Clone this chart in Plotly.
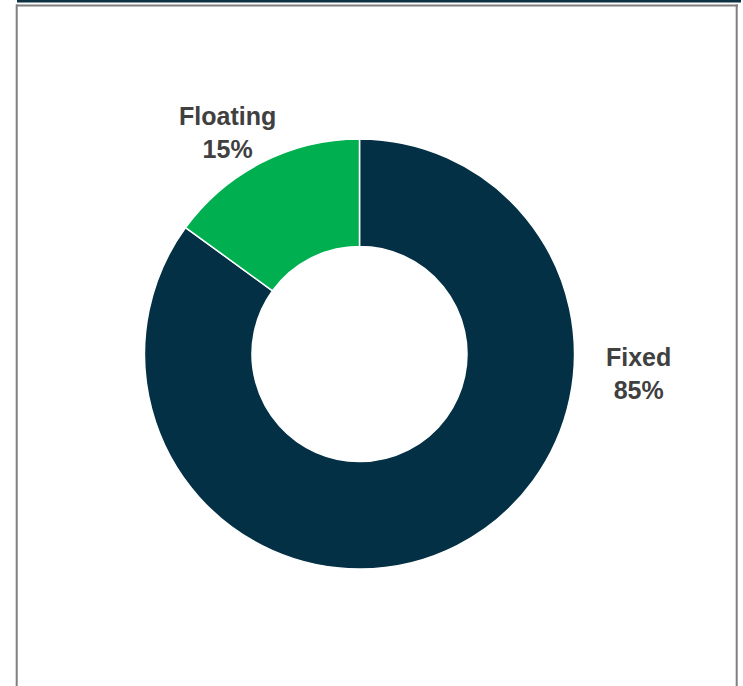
import plotly.graph_objects as go

labels = ["Fixed", "Floating"]
values = [85, 15]
colors = ["#033045", "#00B050"]

W, H = 743, 686

def px(x):
    return x / W

def py(y):
    return 1 - y / H

cx, cy, r = 359.5, 354, 215

fig = go.Figure(go.Pie(
    labels=labels,
    values=values,
    hole=0.5,
    sort=False,
    direction="clockwise",
    rotation=0,
    marker=dict(colors=colors, line=dict(color="white", width=1.5)),
    textinfo="none",
    hoverinfo="label+percent",
    showlegend=False,
    domain=dict(x=[px(cx - r), px(cx + r)], y=[py(cy + r), py(cy - r)]),
))

label_pos = {"Fixed": (638, 373), "Floating": (227, 132)}
total = sum(values)
for lab, v in zip(labels, values):
    x, y = label_pos[lab]
    fig.add_annotation(
        x=px(x), y=py(y), xref="paper", yref="paper",
        text=f"<b>{lab}<br>{round(100 * v / total)}%</b>",
        showarrow=False, align="center",
        font=dict(family="Liberation Sans, Arial", size=25, color="#404040"),
        xanchor="center", yanchor="middle",
    )

shapes = [
    dict(type="rect", x0=px(17), x1=px(741), y0=py(0), y1=py(2.4),
         fillcolor="#0B3142", line=dict(width=0)),
    dict(type="line", x0=px(16), x1=px(738), y0=py(5.5), y1=py(5.5),
         line=dict(color="#7F7F7F", width=2)),
    dict(type="line", x0=px(16.7), x1=px(16.7), y0=py(4.5), y1=py(690),
         line=dict(color="#7F7F7F", width=2)),
    dict(type="line", x0=px(736.7), x1=px(736.7), y0=py(4.5), y1=py(690),
         line=dict(color="#7F7F7F", width=2)),
]
for s in shapes:
    s.update(xref="paper", yref="paper", layer="above")
fig.update_layout(
    width=W, height=H,
    margin=dict(l=0, r=0, t=0, b=0),
    paper_bgcolor="white", plot_bgcolor="white",
    shapes=shapes,
)

fig.write_html(
    "out.html",
    config={"displayModeBar": False},
    post_script="document.body.style.margin='0';document.body.style.overflow='hidden';",
)
